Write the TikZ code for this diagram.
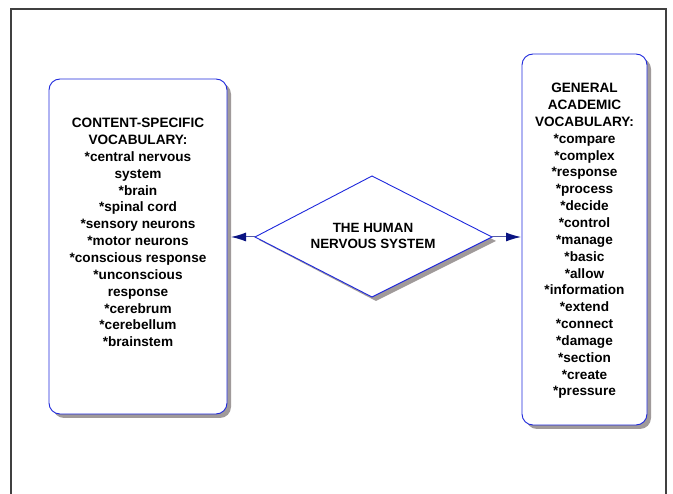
\documentclass[tikz,border=0pt]{standalone}
\usepackage{fontspec}
\setmainfont{Liberation Sans}
\usetikzlibrary{shapes.geometric,arrows.meta}
\definecolor{shadowgray}{RGB}{160,154,154}
\definecolor{edgeblue}{RGB}{30,40,220}
\definecolor{navy}{RGB}{10,20,130}
\begin{document}
\begin{tikzpicture}[x=1pt,y=-1pt,
  vbox/.style={draw=edgeblue,line width=0.9pt,fill=white,rounded corners=11pt},
  shade/.style={fill=shadowgray,rounded corners=11pt},
  word/.style={align=center,font=\bfseries\fontsize{13.6}{16.85}\selectfont},
  link/.style={draw=navy!70,line width=1pt,-{Latex[length=15pt,width=9pt,color=navy]}}]
\useasboundingbox (0,0) rectangle (673,494);
% page frame
\draw[black!75,line width=1.4pt] (11,500) -- (11,9) -- (666,9) -- (666,500);
% shadows
\fill[shade] (53,83) rectangle (231,418);
\fill[shade] (526,58) rectangle (651,429);
\fill[shadowgray] (259,240) -- (375,179) -- (496,241) -- (376,301) -- cycle;
% left vocabulary box
\draw[vbox] (49,79) rectangle (227,414);
\coordinate (lefte) at (231,237);
\node[word] (content) at (138,232.5) {CONTENT-SPECIFIC\\VOCABULARY:\\*central nervous\\system\\*brain\\*spinal cord\\*sensory neurons\\*motor neurons\\*conscious response\\*unconscious\\response\\*cerebrum\\*cerebellum\\*brainstem};
% right vocabulary box
\draw[vbox] (522,54) rectangle (647,425);
\coordinate (righte) at (521,237);
\node[word] (general) at (584.5,241) {GENERAL\\ACADEMIC\\VOCABULARY:\\*compare\\*complex\\*response\\*process\\*decide\\*control\\*manage\\*basic\\*allow\\*information\\*extend\\*connect\\*damage\\*section\\*create\\*pressure};
% central diamond
\draw[edgeblue,line width=0.9pt,fill=white] (255,237) coordinate (dl) -- (372,176) -- (492,237) coordinate (dr) -- (372,297) -- cycle;
\node[word,font=\bfseries\fontsize{13.4}{15.5}\selectfont] (topic) at (373,236) {THE HUMAN\\NERVOUS SYSTEM};
% connectors
\draw[link] (dl) -- (lefte);
\draw[link] (dr) -- (righte);
\end{tikzpicture}
\end{document}
